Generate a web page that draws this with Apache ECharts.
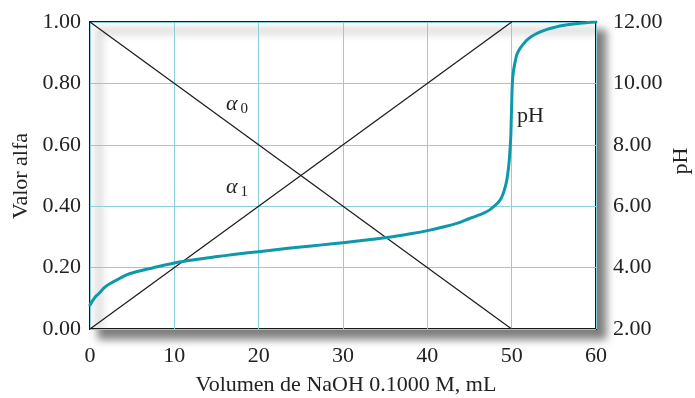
<!DOCTYPE html>
<html>
<head>
<meta charset="utf-8">
<script src="https://cdn.jsdelivr.net/npm/echarts@6/dist/echarts.min.js"></script>
<style>html,body{margin:0;padding:0;background:#fff}#c{width:695px;height:398px}</style>
</head>
<body>
<div id="c"></div>
<script>
// ---- data ----
const xTicks = [0, 10, 20, 30, 40, 50, 60];
const alphaTicks = [0.00, 0.20, 0.40, 0.60, 0.80, 1.00];
const pHTicks = [2.00, 4.00, 6.00, 8.00, 10.00, 12.00];
const alpha0Vol = [0, 50];
const alpha0Val = [1, 0];
const alpha1Vol = [0, 50];
const alpha1Val = [0, 1];
const pHVol = [0, 0.25, 0.5, 0.75, 1, 1.4, 1.8, 2.4, 3, 3.6, 4.2, 5.3, 6.5, 8, 10, 11.5, 13, 14.5, 16, 18, 20, 22.5, 25, 27.5, 30, 32.5, 35, 38, 40.3, 42, 43.5, 45, 46, 46.8, 47.4, 48, 48.4, 48.8, 49.1, 49.35, 49.55, 49.7, 49.8, 49.9, 49.95, 50, 50.05, 50.1, 50.2, 50.35, 50.6, 50.8, 51.1, 51.5, 51.8, 52.3, 52.8, 53.4, 54.2, 55, 55.7, 56.8, 58.1, 59, 60];
const pHVal = [2.78, 2.9, 3.0, 3.08, 3.14, 3.26, 3.37, 3.48, 3.57, 3.66, 3.75, 3.85, 3.93, 4.03, 4.15, 4.22, 4.28, 4.34, 4.39, 4.46, 4.52, 4.60, 4.67, 4.74, 4.81, 4.89, 4.97, 5.10, 5.22, 5.33, 5.44, 5.60, 5.70, 5.79, 5.88, 6.02, 6.12, 6.28, 6.50, 6.75, 7.08, 7.45, 7.83, 8.3, 8.8, 9.3, 9.8, 10.1, 10.38, 10.62, 10.93, 11.05, 11.18, 11.32, 11.41, 11.52, 11.60, 11.68, 11.76, 11.82, 11.87, 11.92, 11.96, 11.98, 12.0];

const zip = (a, b) => a.map((v, i) => [v, b[i]]);
const FONT = "'Liberation Serif', 'Times New Roman', serif";
const FS = 22;
const chart = echarts.init(document.getElementById('c'), null, {renderer: 'canvas'});
chart.setOption({
  animation: false,
  backgroundColor: '#fff',
  grid: {
    left: 90, top: 22, width: 506, height: 307,
    show: true, backgroundColor: '#fff', borderColor: '#1a1a1a', borderWidth: 2,
    shadowColor: 'rgba(0,0,0,0.5)', shadowBlur: 8, shadowOffsetX: 9, shadowOffsetY: 9
  },
  xAxis: {
    type: 'value', min: xTicks[0], max: xTicks[xTicks.length - 1], interval: 10,
    axisLine: {show: false}, axisTick: {show: false},
    axisLabel: {fontFamily: FONT, fontSize: FS, color: '#222', margin: 16},
    splitLine: {show: true, lineStyle: {color: '#8ccfdc', width: 1}}
  },
  yAxis: [{
    type: 'value', min: alphaTicks[0], max: alphaTicks[alphaTicks.length - 1], interval: 0.2,
    axisLine: {show: false}, axisTick: {show: false},
    axisLabel: {fontFamily: FONT, fontSize: FS, color: '#222', margin: 9, formatter: v => v.toFixed(2)},
    splitLine: {show: true, lineStyle: {color: '#8ccfdc', width: 1}}
  }, {
    type: 'value', position: 'right', min: pHTicks[0], max: pHTicks[pHTicks.length - 1], interval: 2,
    axisLine: {show: false}, axisTick: {show: false},
    axisLabel: {fontFamily: FONT, fontSize: FS, color: '#222', margin: 17, formatter: v => v.toFixed(2)},
    splitLine: {show: false}
  }],
  series: [{
    type: 'line', yAxisIndex: 0, data: zip(alpha0Vol, alpha0Val), symbol: 'none',
    lineStyle: {color: '#1a1a1a', width: 1.2}, z: 3
  }, {
    type: 'line', yAxisIndex: 0, data: zip(alpha1Vol, alpha1Val), symbol: 'none',
    lineStyle: {color: '#1a1a1a', width: 1.2}, z: 3
  }, {
    type: 'line', yAxisIndex: 1, data: zip(pHVol, pHVal), symbol: 'none',
    smooth: 0.3,
    lineStyle: {color: '#0e98aa', width: 3, join: 'round', cap: 'round'}, z: 4
  }],
  graphic: [
    {type: 'text', x: 21, y: 176, rotation: Math.PI / 2,
      style: {text: 'Valor alfa', font: FS + 'px ' + FONT, fill: '#222', textAlign: 'center', textVerticalAlign: 'middle'}},
    {type: 'text', x: 681, y: 161, rotation: Math.PI / 2,
      style: {text: 'pH', font: FS + 'px ' + FONT, fill: '#222', textAlign: 'center', textVerticalAlign: 'middle'}},
    {type: 'text', x: 346, y: 385,
      style: {text: 'Volumen de NaOH 0.1000 M, mL', font: FS + 'px ' + FONT, fill: '#222', textAlign: 'center', textVerticalAlign: 'middle'}},
    {type: 'text', x: 517, y: 116, z: 10,
      style: {text: 'pH', font: FS + 'px ' + FONT, fill: '#222', textAlign: 'left', textVerticalAlign: 'middle'}},
    {type: 'text', x: 226, y: 104, z: 10,
      style: {text: '{a|α}{s|0}', fill: '#222', textAlign: 'left', textVerticalAlign: 'middle',
        rich: {a: {fontFamily: FONT, fontSize: 22, fontStyle: 'italic', fill: '#222'}, s: {fontFamily: FONT, fontSize: 15, fill: '#222', padding: [10, 0, 0, 3]}}}},
    {type: 'text', x: 226, y: 187, z: 10,
      style: {text: '{a|α}{s|1}', fill: '#222', textAlign: 'left', textVerticalAlign: 'middle',
        rich: {a: {fontFamily: FONT, fontSize: 22, fontStyle: 'italic', fill: '#222'}, s: {fontFamily: FONT, fontSize: 15, fill: '#222', padding: [10, 0, 0, 3]}}}}
  ]
});
</script>
</body>
</html>
